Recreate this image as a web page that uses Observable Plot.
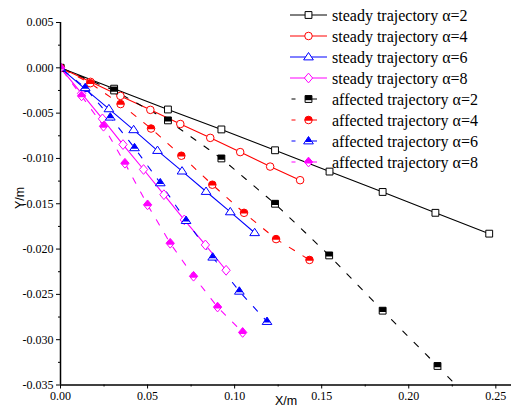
<!DOCTYPE html>
<html><head><meta charset="utf-8">
<script src="https://cdn.jsdelivr.net/npm/d3@7"></script>
<script src="https://cdn.jsdelivr.net/npm/@observablehq/plot@0.6"></script>
<style>body{margin:0;background:#fff;} svg{display:block;}</style>
</head><body><div id="chart"></div>
<script>
// ---- data ----
const steady2X = [0,0.0308,0.0617,0.0924,0.1232,0.1545,0.1850,0.2153,0.2462];
const steady2Y = [0,-0.0023,-0.0046,-0.0068,-0.0091,-0.01145,-0.0137,-0.0160,-0.0183];
const affected2X = [0,0.0308,0.0617,0.0924,0.1232,0.1543,0.1850,0.2165,0.2462];
const affected2Y = [0,-0.0025,-0.0058,-0.0100,-0.0150,-0.0207,-0.0268,-0.0329,-0.0388];
const steady4X = [0,0.0172,0.0344,0.0516,0.0688,0.0860,0.1032,0.1204,0.1376];
const steady4Y = [0,-0.00155,-0.0031,-0.00464,-0.0062,-0.00773,-0.0093,-0.0109,-0.0124];
const affected4X = [0,0.0171,0.0345,0.0520,0.0694,0.0872,0.1054,0.1238,0.1430];
const affected4Y = [0,-0.0017,-0.0040,-0.0067,-0.0097,-0.0129,-0.0160,-0.0189,-0.0212];
const steady6X = [0,0.0139,0.0278,0.0420,0.0557,0.0698,0.0836,0.0975,0.1115];
const steady6Y = [0,-0.0023,-0.00453,-0.00684,-0.00913,-0.0114,-0.01365,-0.0159,-0.0182];
const affected6X = [0,0.0142,0.0286,0.0425,0.0573,0.0721,0.0874,0.1027,0.1186];
const affected6Y = [0,-0.0022,-0.00545,-0.00883,-0.0127,-0.01686,-0.0209,-0.02466,-0.0280];
const steady8X = [0,0.0121,0.0241,0.0359,0.0477,0.0594,0.0711,0.0832,0.0951];
const steady8Y = [0,-0.00283,-0.00563,-0.00847,-0.01122,-0.0140,-0.01678,-0.01954,-0.02234];
const affected8X = [0,0.0121,0.0247,0.0370,0.0500,0.0630,0.0764,0.0902,0.1046];
const affected8Y = [0,-0.0031,-0.00645,-0.01053,-0.01512,-0.01936,-0.0230,-0.0264,-0.0292];

const seriesNames = ["steady trajectory α=2","steady trajectory α=4","steady trajectory α=6","steady trajectory α=8",
  "affected trajectory α=2","affected trajectory α=4","affected trajectory α=6","affected trajectory α=8"];
const seriesColors = ["#000000","#ff0000","#0000ff","#ff00ff","#000000","#ff0000","#0000ff","#ff00ff"];
const seriesShapes = ["square","circle","triangle","diamond","square","circle","triangle","diamond"];
const seriesAffected = [false,false,false,false,true,true,true,true];
const xsAll = [steady2X,steady4X,steady6X,steady8X,affected2X,affected4X,affected6X,affected8X];
const ysAll = [steady2Y,steady4Y,steady6Y,steady8Y,affected2Y,affected4Y,affected6Y,affected8Y];

const xDomain = [0, 0.259];
const yDomain = [-0.035, 0.005];
const xTicks = [0, 0.05, 0.10, 0.15, 0.20, 0.25];
const xMinor = [0.025, 0.075, 0.125, 0.175, 0.225];
const yTicks = [-0.035,-0.030,-0.025,-0.020,-0.015,-0.010,-0.005,0,0.005];
const yMinor = [-0.0325,-0.0275,-0.0225,-0.0175,-0.0125,-0.0075,-0.0025,0.0025];

const SERIF = "'Liberation Serif', 'Times New Roman', serif";
const SANS = "'Liberation Sans', Arial, sans-serif";

// ---- symbols ----
function shapeOutline(kind, r, ctx) {
  if (kind === "square") { const s = r*0.95; ctx.rect(-s,-s,2*s,2*s); }
  else if (kind === "circle") { const c = r*1.05; ctx.moveTo(c,0); ctx.arc(0,0,c,0,2*Math.PI); }
  else if (kind === "triangle") { const a=r*1.25,b=r*0.8,w=r*1.35; ctx.moveTo(0,-a); ctx.lineTo(w,b); ctx.lineTo(-w,b); ctx.closePath(); }
  else if (kind === "diamond") { const a=r*1.35,w=r*1.15; ctx.moveTo(0,-a); ctx.lineTo(w,0); ctx.lineTo(0,a); ctx.lineTo(-w,0); ctx.closePath(); }
}
function shapeHalf(kind, r, ctx) {
  if (kind === "square") { const s = r*0.95; ctx.rect(-s,-s,2*s,1.35*s); }
  else if (kind === "circle") { const c = r*1.05; const h = 0.2*c; const ang = Math.asin(h/c);
    ctx.moveTo(Math.cos(ang)*c, h); ctx.arc(0,0,c,ang,Math.PI-ang,true); ctx.closePath(); }
  else if (kind === "triangle") { const a=r*1.25,b=r*0.8,w=r*1.35; const h=b*0.35; const hw=w*(h+a)/(b+a);
    ctx.moveTo(0,-a); ctx.lineTo(hw,h); ctx.lineTo(-hw,h); ctx.closePath(); }
  else if (kind === "diamond") { const a=r*1.35,w=r*1.15; const h=a*0.3; const hw=w*(a-h)/a;
    ctx.moveTo(0,-a); ctx.lineTo(w,0); ctx.lineTo(hw,h); ctx.lineTo(-hw,h); ctx.lineTo(-w,0); ctx.closePath(); }
}
function makeSymbol(kind, half) {
  return { draw(ctx, size) { const r = Math.sqrt(size/Math.PI); (half ? shapeHalf : shapeOutline)(kind, r, ctx); } };
}

const R = 3.6;
const lineMarks = [], dotMarks = [];
seriesNames.forEach((name, i) => {
  const data = xsAll[i].map((x, j) => ({x, y: ysAll[i][j]}));
  const col = seriesColors[i];
  lineMarks.push(Plot.line(data, {x:"x", y:"y", stroke: col, strokeWidth: 1.1,
    strokeDasharray: seriesAffected[i] ? "6,10" : null, strokeDashoffset: seriesAffected[i] ? -4 : null, clip: true}));
  dotMarks.push(Plot.dot(data, {x:"x", y:"y", r: R, symbol: makeSymbol(seriesShapes[i], false),
    fill: "white", stroke: col, strokeWidth: 1, clip: true}));
  if (seriesAffected[i]) {
    dotMarks.push(Plot.dot(data, {x:"x", y:"y", r: R, symbol: makeSymbol(seriesShapes[i], true),
      fill: col, stroke: "none", clip: true}));
  }
});

const chart = Plot.plot({
  width: 511, height: 410,
  marginLeft: 60, marginRight: 0, marginTop: 22, marginBottom: 25.5,
  x: {domain: xDomain},
  y: {domain: yDomain},
  style: {"font-family": SERIF, "font-size": "12px", "background": "white", "color": "black"},
  marks: [
    ...lineMarks,
    ...dotMarks,
    Plot.axisY({ticks: yTicks, tickSize: 4, tickPadding: 3, tickFormat: d => d.toFixed(3), label: null, fontSize: 12}),
    Plot.axisY({ticks: yMinor, tickSize: 2, tickFormat: () => "", label: null}),
    Plot.axisX({ticks: xTicks, tickSize: 4, tickPadding: 2, tickFormat: d => d.toFixed(2), label: null, fontSize: 12}),
    Plot.axisX({ticks: xMinor, tickSize: 2, tickFormat: () => "", label: null}),
    Plot.ruleX([0], {stroke: "black", strokeWidth: 1.5}),
    Plot.ruleY([yDomain[0]], {stroke: "black", strokeWidth: 1.5})
  ]
});
document.getElementById("chart").appendChild(chart);

// ---- legend & axis titles ----
const svg = d3.select(chart);
svg.attr("font-family", SERIF).style("font-family", SERIF);
svg.selectAll("text").style("font-family", SERIF).style("font-size", "12px").attr("fill", "black");
const lg = svg.append("g").attr("text-anchor", "start");
seriesNames.forEach((name, i) => {
  const cy = 15 + i * 21;
  const col = seriesColors[i];
  const g = lg.append("g");
  if (seriesAffected[i]) {
    g.append("line").attr("x1",291.5).attr("x2",295.5).attr("y1",cy).attr("y2",cy).attr("stroke",col);
    g.append("line").attr("x1",312).attr("x2",317).attr("y1",cy).attr("y2",cy).attr("stroke",col);
  } else {
    g.append("line").attr("x1",290).attr("x2",327).attr("y1",cy).attr("y2",cy).attr("stroke",col);
  }
  const p1 = d3.path(); shapeOutline(seriesShapes[i], R, p1);
  g.append("path").attr("d", p1.toString()).attr("transform", `translate(308.5,${cy})`)
    .attr("fill","white").attr("stroke",col);
  if (seriesAffected[i]) {
    const p2 = d3.path(); shapeHalf(seriesShapes[i], R, p2);
    g.append("path").attr("d", p2.toString()).attr("transform", `translate(308.5,${cy})`).attr("fill",col);
  }
  g.append("text").attr("x",332).attr("y",cy).attr("dy","0.35em").attr("text-anchor","start")
    .style("font-family", SERIF).style("font-size","16px").attr("fill","black").text(name);
});
svg.append("text").attr("x",286).attr("y",401).attr("dy","0.35em").attr("text-anchor","middle")
  .style("font-family", SANS).style("font-size","12.5px").text("X/m");
svg.append("text").attr("transform","translate(20,198) rotate(-90)").attr("dy","0.35em").attr("text-anchor","middle")
  .style("font-family", SANS).style("font-size","12.5px").text("Y/m");
</script></body></html>
